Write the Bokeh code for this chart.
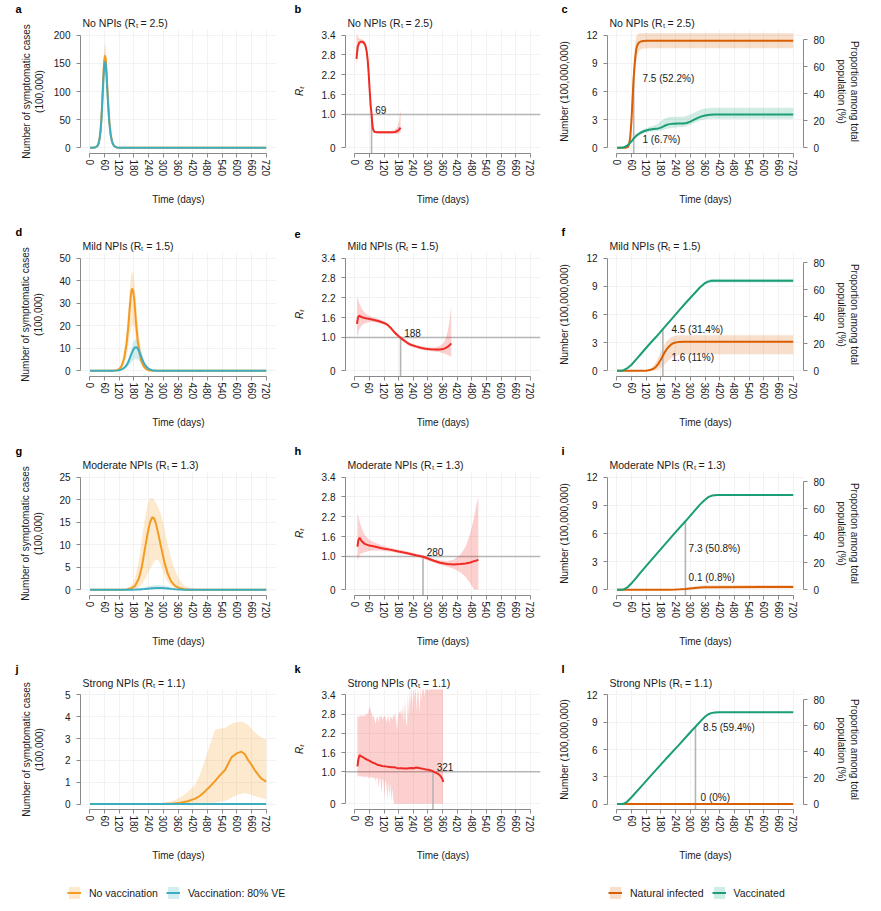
from bokeh.plotting import figure
from bokeh.models import FixedTicker, Range1d, LinearAxis, Span, Title, Legend, LegendItem
from bokeh.layouts import column, row
from bokeh.embed import file_html
from bokeh.resources import INLINE
from bokeh.core.properties import value

# ---------------------------------------------------------------- data
POP = 14.37  # total population (100,000,000)
X_TICKS = [0, 60, 120, 180, 240, 300, 360, 420, 480, 540, 600, 660, 720]
TITLES = ["No NPIs (R\u209c = 2.5)", "Mild NPIs (R\u209c = 1.5)",
          "Moderate NPIs (R\u209c = 1.3)", "Strong NPIs (R\u209c = 1.1)"]
LETTERS = [["a", "b", "c"], ["d", "e", "f"], ["g", "h", "i"], ["j", "k", "l"]]
CASE_YMAX = [200, 50, 25, 5]
CASE_YTICKS = [[0, 50, 100, 150, 200], [0, 10, 20, 30, 40, 50],
               [0, 5, 10, 15, 20, 25], [0, 1, 2, 3, 4, 5]]
RT_TICKS = [0, 1.0, 1.6, 2.2, 2.8, 3.4]
RT_TICK_LABELS = ["0", "1.0", "1.6", "2.2", "2.8", "3.4"]
NUM_TICKS = [0, 3, 6, 9, 12]
PCT_TICKS = [0, 20, 40, 60, 80]
CROSS_DAY = [69, 188, 280, 321]
CROSS_NUM = [7.5, 4.5, 7.3, 8.5]
NUM_LABEL_X = [[105, 105], [223, 223], [293, 293], [352, 342]]
NUM_LABEL_Y = [[7.4, 0.88], [4.4, 1.4], [4.45, 1.27], [8.42, 0.77]]
NUM_LABEL_TEXT = [["7.5 (52.2%)", "1 (6.7%)"], ["4.5 (31.4%)", "1.6 (11%)"],
                  ["7.3 (50.8%)", "0.1 (0.8%)"], ["8.5 (59.4%)", "0 (0%)"]]

# panel a
a_days = [1, 20, 30, 35, 40, 44, 48, 52, 56, 59, 62, 65, 68, 72, 76, 80, 85, 90, 95, 100, 110, 120, 140, 200, 720]
a_nv = [0, 0.5, 3, 7, 17, 32, 58, 95, 135, 156, 164, 158, 138, 104, 72, 46, 25, 13, 6.5, 3.2, 0.8, 0.2, 0.03, 0, 0]
a_nv_hi = [0, 0.6, 3.5, 8, 19.5, 36, 66, 108, 153, 177, 185, 179, 156, 118, 82, 52, 28, 15, 7.3, 3.6, 0.9, 0.25, 0.04, 0, 0]
a_nv_lo = [0, 0.4, 2.6, 6, 14.8, 28, 50, 83, 117, 136, 143, 137, 120, 90, 63, 40, 22, 11.3, 5.7, 2.8, 0.7, 0.17, 0.02, 0, 0]
a_v = [0, 0.5, 2.8, 6.5, 16, 30, 54, 89, 126, 146, 153, 148, 129, 97, 67, 43, 23, 12, 6, 3, 0.7, 0.2, 0.03, 0, 0]
a_v_hi = [0, 0.55, 3.1, 7.2, 17.6, 33, 59, 98, 139, 160, 168, 163, 142, 107, 74, 47, 25, 13.2, 6.6, 3.3, 0.8, 0.22, 0.03, 0, 0]
a_v_lo = [0, 0.45, 2.5, 5.8, 14.4, 27, 49, 80, 113, 132, 138, 133, 116, 87, 60, 39, 21, 10.8, 5.4, 2.7, 0.6, 0.18, 0.02, 0, 0]
# panel d
d_days = [1, 60, 90, 110, 120, 130, 140, 150, 157, 163, 168, 172, 177, 182, 188, 195, 202, 210, 220, 230, 240, 255, 270, 290, 320, 720]
d_nv = [0, 0, 0.05, 0.3, 0.8, 2.2, 5.5, 12, 19.5, 28, 34, 36.5, 35.5, 31, 22, 14, 8.5, 4.5, 2, 0.8, 0.3, 0.1, 0.03, 0, 0, 0]
d_nv_hi = [0, 0, 0.1, 0.5, 1.3, 3.5, 8.5, 18, 27, 36, 42, 44, 43.5, 40, 32, 23, 15, 9, 4.2, 1.8, 0.7, 0.25, 0.08, 0.01, 0, 0]
d_nv_lo = [0, 0, 0.02, 0.15, 0.4, 1.2, 3, 6.5, 11, 15.5, 19, 20.5, 20.5, 19, 14, 9, 5.2, 2.6, 1.0, 0.35, 0.12, 0.04, 0.01, 0, 0, 0]
d_v = [0, 0, 0.02, 0.12, 0.3, 0.65, 1.3, 2.5, 3.9, 5.5, 7, 8, 9.2, 10.1, 10.6, 10, 8.5, 6.2, 3.6, 1.9, 0.9, 0.3, 0.1, 0.03, 0, 0]
d_v_hi = [0, 0, 0.03, 0.17, 0.42, 0.9, 1.8, 3.4, 5.3, 7.5, 9.4, 10.8, 12.4, 13.6, 14.2, 13.5, 11.5, 8.4, 4.9, 2.6, 1.2, 0.4, 0.14, 0.04, 0, 0]
d_v_lo = [0, 0, 0.01, 0.06, 0.15, 0.33, 0.65, 1.25, 1.95, 2.75, 3.5, 4, 4.6, 5.05, 5.3, 5, 4.25, 3.1, 1.8, 0.95, 0.45, 0.15, 0.05, 0.015, 0, 0]
# panel g
g_days = [1, 120, 150, 170, 185, 200, 212, 224, 236, 246, 255, 262, 270, 280, 292, 305, 318, 332, 348, 365, 385, 410, 450, 720]
g_nv = [0, 0.02, 0.1, 0.35, 0.9, 2.5, 5, 8.8, 12.6, 15, 16.1, 15.9, 14.7, 12.3, 9.2, 6, 3.6, 1.9, 0.9, 0.4, 0.15, 0.05, 0.01, 0]
g_nv_hi = [0, 0.05, 0.3, 1, 2.6, 6.5, 11, 15.5, 19, 20.3, 20.4, 20, 19.3, 18.2, 16.5, 13.5, 10, 7, 4.3, 2.3, 1, 0.4, 0.1, 0]
g_nv_lo = [0, 0, 0.02, 0.08, 0.2, 0.6, 1.2, 2.2, 3.5, 4.6, 5.5, 6.2, 6.7, 6.5, 5.2, 3.3, 1.8, 0.9, 0.4, 0.15, 0.05, 0.01, 0, 0]
g_v = [0, 0, 0.01, 0.03, 0.06, 0.1, 0.15, 0.2, 0.27, 0.32, 0.36, 0.38, 0.4, 0.41, 0.4, 0.36, 0.3, 0.22, 0.14, 0.08, 0.04, 0.02, 0, 0]
g_v_hi = [0, 0, 0.03, 0.08, 0.16, 0.27, 0.4, 0.55, 0.72, 0.85, 0.95, 1.0, 1.05, 1.07, 1.04, 0.94, 0.78, 0.57, 0.36, 0.2, 0.1, 0.05, 0.01, 0]
g_v_lo = [0, 0, 0, 0.01, 0.02, 0.03, 0.05, 0.06, 0.08, 0.1, 0.11, 0.12, 0.12, 0.12, 0.12, 0.11, 0.09, 0.07, 0.04, 0.02, 0.01, 0, 0, 0]
# panel j
j_days = [1, 250, 300, 340, 370, 400, 430, 450, 470, 490, 511, 530, 552, 565, 579, 599, 619, 633, 646, 660, 673, 687, 700, 720]
j_nv = [0, 0, 0.01, 0.03, 0.06, 0.13, 0.25, 0.38, 0.58, 0.8, 1.05, 1.3, 1.56, 1.85, 2.15, 2.32, 2.4, 2.28, 2.02, 1.8, 1.56, 1.35, 1.17, 1.03]
j_nv_hi = [0, 0.01, 0.05, 0.15, 0.3, 0.55, 0.9, 1.35, 2.0, 2.7, 3.4, 3.45, 3.5, 3.6, 3.68, 3.75, 3.78, 3.7, 3.62, 3.45, 3.3, 3.15, 3.05, 2.95]
j_nv_lo = [0, 0, 0, 0, 0, 0, 0, 0.01, 0.02, 0.04, 0.06, 0.1, 0.15, 0.2, 0.3, 0.4, 0.47, 0.5, 0.47, 0.42, 0.37, 0.32, 0.28, 0.22]
j_v_days = [1, 720]
j_v = [0, 0]
j_v_hi = [0.02, 0.02]
j_v_lo = [0, 0]

# panel b
b_days = [7, 12, 18, 24, 30, 36, 41, 45, 49, 53, 57, 61, 65, 69, 72, 75, 79, 84, 95, 120, 150, 165, 175, 182, 188]
b_rt = [2.68, 3.05, 3.17, 3.2, 3.2, 3.18, 3.13, 3.05, 2.9, 2.65, 2.25, 1.75, 1.3, 1.0, 0.72, 0.56, 0.49, 0.47, 0.46, 0.46, 0.46, 0.47, 0.5, 0.54, 0.6]
b_hi = [3.45, 3.38, 3.3, 3.28, 3.27, 3.25, 3.2, 3.12, 2.98, 2.74, 2.35, 1.86, 1.4, 1.1, 0.8, 0.62, 0.54, 0.51, 0.5, 0.5, 0.5, 0.53, 0.62, 0.8, 1.15]
b_lo = [2.45, 2.8, 3.05, 3.13, 3.14, 3.11, 3.06, 2.98, 2.82, 2.56, 2.15, 1.65, 1.2, 0.9, 0.65, 0.5, 0.44, 0.43, 0.42, 0.42, 0.42, 0.42, 0.41, 0.42, 0.45]
# panel e
e_days = [9, 13, 18, 30, 45, 61, 80, 100, 120, 135, 150, 165, 178, 188, 200, 215, 230, 250, 270, 290, 310, 330, 350, 362, 372, 382, 390, 396]
e_rt = [1.41, 1.6, 1.66, 1.61, 1.58, 1.56, 1.53, 1.49, 1.44, 1.38, 1.27, 1.14, 1.05, 0.99, 0.92, 0.84, 0.78, 0.73, 0.69, 0.66, 0.645, 0.635, 0.64, 0.65, 0.68, 0.72, 0.77, 0.82]
e_hi = [2.25, 2.15, 2.05, 1.85, 1.72, 1.65, 1.6, 1.55, 1.49, 1.43, 1.32, 1.19, 1.1, 1.04, 0.97, 0.89, 0.83, 0.78, 0.74, 0.71, 0.7, 0.7, 0.74, 0.82, 0.95, 1.2, 1.55, 1.97]
e_lo = [1.0, 1.1, 1.25, 1.38, 1.44, 1.47, 1.46, 1.43, 1.39, 1.33, 1.22, 1.09, 1.0, 0.94, 0.87, 0.79, 0.73, 0.68, 0.64, 0.61, 0.59, 0.57, 0.55, 0.52, 0.5, 0.47, 0.44, 0.42]
# panel h
h_days = [11, 15, 20, 28, 41, 60, 81, 110, 149, 180, 216, 250, 281, 300, 325, 350, 379, 405, 433, 455, 474, 490, 500, 507]
h_rt = [1.3, 1.5, 1.57, 1.47, 1.38, 1.33, 1.3, 1.25, 1.2, 1.15, 1.1, 1.04, 0.99, 0.94, 0.87, 0.81, 0.77, 0.76, 0.77, 0.79, 0.82, 0.86, 0.88, 0.9]
h_hi = [2.3, 2.2, 2.05, 1.85, 1.65, 1.5, 1.42, 1.33, 1.26, 1.2, 1.15, 1.09, 1.03, 0.98, 0.92, 0.88, 0.86, 0.9, 1.05, 1.3, 1.7, 2.2, 2.6, 2.8]
h_lo = [0.85, 0.95, 1.05, 1.1, 1.13, 1.17, 1.18, 1.17, 1.14, 1.1, 1.05, 0.99, 0.93, 0.88, 0.81, 0.75, 0.69, 0.63, 0.52, 0.38, 0.18, 0.0, 0.0, 0.0]
# panel k
k_days = [11, 15, 20, 26, 33, 40, 48, 55, 63, 72, 82, 92, 102, 112, 122, 132, 142, 152, 162, 172, 182,
          192, 202, 212, 222, 232, 242, 252, 262, 272, 282, 292, 302, 312, 320, 328, 336, 344, 350, 356, 360, 363]
k_rt = [1.17, 1.4, 1.52, 1.48, 1.46, 1.42, 1.39, 1.36, 1.33, 1.29, 1.26, 1.22, 1.2, 1.18, 1.17, 1.16, 1.15, 1.14, 1.14, 1.12, 1.11,
        1.11, 1.1, 1.1, 1.11, 1.12, 1.11, 1.13, 1.12, 1.1, 1.09, 1.07, 1.06, 1.04, 1.02, 0.98, 0.96, 0.92, 0.88, 0.82, 0.76, 0.68]
k_band_days = [11, 14, 18, 22, 26, 30, 34, 38, 42, 46, 50, 54, 58, 62, 66, 70, 74, 78, 82, 86, 90,
               94, 98, 102, 106, 110, 114, 118, 122, 126, 130, 134, 138, 142, 146, 150, 154, 158, 162, 166, 170,
               174, 178, 182, 186, 190, 194, 198, 202, 206, 210, 214, 218, 222, 226, 230, 234, 238, 242, 246, 250,
               254, 258, 262, 266, 270, 274, 278, 282, 286, 290, 294, 298, 302, 306, 310, 314, 318, 322, 326, 330,
               334, 338, 342, 346, 350, 354, 358, 362]
k_hi = [2.75, 2.72, 2.75, 2.7, 2.78, 2.74, 2.76, 2.72, 2.8, 2.75, 2.85, 2.78, 2.95, 3.05, 2.9, 2.8, 2.7, 2.75, 2.6, 2.5, 2.72,
        2.7, 2.55, 2.75, 2.7, 2.78, 2.6, 2.72, 2.75, 2.7, 2.55, 2.68, 2.75, 2.5, 2.7, 2.72, 2.6, 2.8, 2.7, 2.85, 2.55,
        2.3, 2.75, 2.9, 2.8, 2.95, 2.7, 3.1, 2.5, 3.3, 2.6, 2.4, 3.4, 2.7, 3.6, 3.1, 3.7, 2.9, 3.7, 3.3, 3.7,
        2.85, 3.7, 3.4, 2.8, 3.7, 3.2, 3.7, 3.7, 3.3, 3.7, 3.7, 3.7, 3.5, 3.7, 3.7, 3.7, 3.7, 3.7, 3.7, 3.7,
        3.7, 3.7, 3.7, 3.7, 3.7, 3.7, 3.7, 3.7]
k_lo = [0.8, 0.88, 0.85, 0.87, 0.84, 0.86, 0.85, 0.83, 0.86, 0.82, 0.85, 0.84, 0.8, 0.83, 0.81, 0.84, 0.78, 0.82, 0.8, 0.7, 0.82,
        0.78, 0.5, 0.8, 0.75, 0.3, 0.78, 0.72, 0.15, 0.75, 0.6, 0.1, 0.7, 0.2, 0.65, 0.05, 0.5, 0.1, 0, 0, 0,
        0, 0, 0, 0, 0, 0, 0, 0, 0, 0, 0, 0, 0, 0, 0, 0, 0, 0, 0, 0,
        0, 0, 0, 0, 0, 0, 0, 0, 0, 0, 0, 0, 0, 0, 0, 0, 0, 0, 0, 0,
        0, 0, 0, 0, 0, 0, 0, 0]

# panel c
c_nat_days = [1, 20, 35, 45, 50, 55, 60, 64, 67, 69, 72, 76, 80, 85, 90, 100, 120, 720]
c_nat = [0, 0, 0.02, 0.1, 0.35, 1.2, 3.0, 5.0, 6.6, 7.5, 8.6, 9.8, 10.6, 11.0, 11.2, 11.35, 11.4, 11.4]
c_nat_hi = [0, 0, 0.05, 0.2, 0.6, 1.8, 4.2, 6.5, 8.2, 9.2, 10.3, 11.3, 11.9, 12.1, 12.2, 12.2, 12.2, 12.2]
c_nat_lo = [0, 0, 0.01, 0.05, 0.2, 0.7, 2.0, 3.6, 5.0, 5.9, 7.0, 8.3, 9.3, 9.9, 10.3, 10.55, 10.6, 10.6]
c_vac_days = [1, 20, 30, 40, 50, 60, 69, 80, 95, 110, 130, 150, 170, 180, 195, 210, 230, 250, 270, 285, 300, 320, 340, 360, 380, 400, 720]
c_vac = [0, 0.02, 0.08, 0.2, 0.42, 0.7, 1.0, 1.3, 1.58, 1.77, 1.93, 2.0, 2.07, 2.15, 2.35, 2.5, 2.58, 2.6, 2.6, 2.65, 2.8, 3.05, 3.3, 3.45, 3.52, 3.55, 3.55]
c_vac_hi = [0, 0.03, 0.1, 0.25, 0.5, 0.82, 1.15, 1.5, 1.8, 2.0, 2.2, 2.35, 2.6, 2.85, 3.1, 3.25, 3.3, 3.32, 3.32, 3.4, 3.55, 3.8, 4.05, 4.2, 4.25, 4.27, 4.27]
c_vac_lo = [0, 0.01, 0.06, 0.15, 0.35, 0.6, 0.85, 1.1, 1.38, 1.55, 1.7, 1.78, 1.82, 1.85, 1.95, 2.05, 2.15, 2.2, 2.22, 2.3, 2.45, 2.7, 2.9, 3.05, 3.1, 3.1, 3.1]
# panel f
f_nat_days = [1, 100, 120, 135, 150, 160, 170, 180, 188, 196, 205, 215, 225, 235, 250, 270, 300, 720]
f_nat = [0, 0, 0.02, 0.08, 0.22, 0.45, 0.78, 1.2, 1.6, 2.0, 2.35, 2.65, 2.87, 2.99, 3.06, 3.1, 3.1, 3.1]
f_nat_hi = [0, 0, 0.06, 0.22, 0.55, 0.95, 1.45, 2.0, 2.45, 2.85, 3.2, 3.45, 3.62, 3.72, 3.78, 3.8, 3.8, 3.8]
f_nat_lo = [0, 0, 0, 0.01, 0.04, 0.09, 0.18, 0.32, 0.48, 0.7, 0.95, 1.2, 1.4, 1.55, 1.68, 1.74, 1.76, 1.76]
f_vac_days = [1, 20, 30, 45, 60, 80, 100, 130, 160, 188, 220, 250, 280, 310, 340, 360, 372, 385, 400, 720]
f_vac = [0, 0.02, 0.1, 0.32, 0.65, 1.25, 1.85, 2.75, 3.6, 4.45, 5.4, 6.3, 7.2, 8.05, 8.9, 9.35, 9.5, 9.58, 9.6, 9.6]
f_vac_hi = [0, 0.03, 0.12, 0.36, 0.7, 1.3, 1.92, 2.83, 3.68, 4.54, 5.5, 6.4, 7.3, 8.16, 9.02, 9.5, 9.7, 9.78, 9.8, 9.8]
f_vac_lo = [0, 0.01, 0.08, 0.28, 0.6, 1.2, 1.78, 2.67, 3.52, 4.36, 5.3, 6.2, 7.1, 7.94, 8.78, 9.2, 9.3, 9.38, 9.4, 9.4]
# panel i
i_nat_days = [1, 180, 210, 240, 260, 280, 300, 320, 340, 360, 390, 720]
i_nat = [0, 0, 0.01, 0.03, 0.06, 0.1, 0.15, 0.2, 0.24, 0.27, 0.29, 0.3]
i_nat_hi = [0, 0, 0.03, 0.08, 0.15, 0.22, 0.3, 0.38, 0.44, 0.48, 0.5, 0.52]
i_nat_lo = [0, 0, 0, 0.01, 0.02, 0.04, 0.06, 0.09, 0.11, 0.13, 0.14, 0.15]
i_vac_days = [1, 20, 30, 45, 60, 80, 100, 130, 160, 200, 240, 280, 310, 340, 360, 375, 390, 410, 720]
i_vac = [0, 0.02, 0.08, 0.3, 0.7, 1.3, 1.95, 2.85, 3.75, 4.95, 6.15, 7.3, 8.2, 9.1, 9.6, 9.9, 10.05, 10.1, 10.1]
i_vac_hi = [0, 0.03, 0.1, 0.34, 0.76, 1.37, 2.03, 2.93, 3.83, 5.03, 6.23, 7.38, 8.28, 9.18, 9.68, 9.98, 10.13, 10.18, 10.18]
i_vac_lo = [0, 0.01, 0.06, 0.26, 0.64, 1.23, 1.87, 2.77, 3.67, 4.87, 6.07, 7.22, 8.12, 9.02, 9.52, 9.82, 9.97, 10.02, 10.02]
# panel l
l_nat_days = [1, 720]
l_nat = [0, 0]
l_nat_hi = [0.02, 0.02]
l_nat_lo = [0, 0]
l_vac_days = [1, 20, 30, 40, 60, 100, 150, 200, 250, 300, 321, 345, 360, 372, 385, 400, 420, 720]
l_vac = [0, 0.01, 0.06, 0.2, 0.75, 1.95, 3.45, 4.95, 6.4, 7.9, 8.5, 9.2, 9.6, 9.85, 10.0, 10.08, 10.1, 10.1]
l_vac_hi = [0, 0.02, 0.08, 0.23, 0.8, 2.02, 3.52, 5.02, 6.47, 7.97, 8.57, 9.27, 9.67, 9.92, 10.07, 10.15, 10.17, 10.17]
l_vac_lo = [0, 0, 0.04, 0.17, 0.7, 1.88, 3.38, 4.88, 6.33, 7.83, 8.43, 9.13, 9.53, 9.78, 9.93, 10.01, 10.03, 10.03]

CASES = [
    (a_days, a_nv, a_nv_lo, a_nv_hi, a_days, a_v, a_v_lo, a_v_hi),
    (d_days, d_nv, d_nv_lo, d_nv_hi, d_days, d_v, d_v_lo, d_v_hi),
    (g_days, g_nv, g_nv_lo, g_nv_hi, g_days, g_v, g_v_lo, g_v_hi),
    (j_days, j_nv, j_nv_lo, j_nv_hi, j_v_days, j_v, j_v_lo, j_v_hi),
]
RTS = [
    (b_days, b_rt, b_days, b_lo, b_hi),
    (e_days, e_rt, e_days, e_lo, e_hi),
    (h_days, h_rt, h_days, h_lo, h_hi),
    (k_days, k_rt, k_band_days, k_lo, k_hi),
]
NUMS = [
    (c_nat_days, c_nat, c_nat_lo, c_nat_hi, c_vac_days, c_vac, c_vac_lo, c_vac_hi),
    (f_nat_days, f_nat, f_nat_lo, f_nat_hi, f_vac_days, f_vac, f_vac_lo, f_vac_hi),
    (i_nat_days, i_nat, i_nat_lo, i_nat_hi, i_vac_days, i_vac, i_vac_lo, i_vac_hi),
    (l_nat_days, l_nat, l_nat_lo, l_nat_hi, l_vac_days, l_vac, l_vac_lo, l_vac_hi),
]

# ---------------------------------------------------------------- style
FONT = "Liberation Sans"
ORANGE = "#F39A21"
TEAL = "#3DADC0"
NAT = "#D95F02"
VAC = "#1B9E77"
RED = "#EE2B24"
GREY_LINE = "#b5b5b5"
AXIS_C = "#8a8a8a"
TXT = "#1a1a1a"
GRID_C = "#f2f2f2"
NAN = float("nan")

COL_W = [290, 265, 318]
BORDER_L = [80, 54, 52]
BORDER_R = [14, 15, 70]
ROW_H = [223, 219, 218, 204]
BORDER_T = 28
FRAME_H = 125
X_RANGE = (-38, 762)
CASE_LABEL_STANDOFF = [6, 12, 12, 17]
LETTER_OFFSET = [-65, -51, -46]


def new_fig(r, c, y_range):
    p = figure(width=COL_W[c], height=ROW_H[r], x_range=Range1d(*X_RANGE), y_range=y_range,
               output_backend="svg", toolbar_location=None, tools="",
               min_border_left=BORDER_L[c], min_border_right=BORDER_R[c],
               min_border_top=BORDER_T, min_border_bottom=ROW_H[r] - BORDER_T - FRAME_H)
    p.outline_line_color = None
    # outer title line: panel letter
    p.title.text = LETTERS[r][c]
    p.title.align = "left"
    p.title.offset = LETTER_OFFSET[c]
    p.title.standoff = 0
    p.title.text_font = FONT
    p.title.text_font_size = "11px"
    p.title.text_font_style = "bold"
    p.title.text_color = "black"
    # inner title line: scenario
    p.add_layout(Title(text=TITLES[r], align="left", offset=2, standoff=1,
                       text_font=FONT, text_font_size="10.5px", text_font_style="normal",
                       text_color=TXT), "above")
    xa = p.xaxis[0]
    xa.ticker = FixedTicker(ticks=X_TICKS)
    xa.bounds = (0, 720)
    xa.major_label_orientation = "vertical"
    xa.axis_label = "Time (days)"
    xa.major_label_standoff = 2
    xa.axis_label_standoff = 15
    p.xgrid.ticker = FixedTicker(ticks=X_TICKS)
    p.grid.grid_line_color = GRID_C
    return p


def style_axes(p):
    for ax in p.axis:
        ax.axis_line_color = AXIS_C
        ax.axis_line_width = 1
        ax.major_tick_line_color = AXIS_C
        ax.minor_tick_line_color = None
        ax.major_tick_in = 0
        ax.major_tick_out = 4
        ax.major_label_text_font = FONT
        ax.major_label_text_font_size = "10px"
        ax.major_label_text_color = TXT
        ax.axis_label_text_font = FONT
        ax.axis_label_text_font_size = "10px"
        ax.axis_label_text_font_style = "normal"
        ax.axis_label_text_color = TXT
    for ax in p.yaxis:
        ax.major_label_standoff = 6


def case_fig(r):
    ymax = CASE_YMAX[r]
    p = new_fig(r, 0, Range1d(-0.05 * ymax, 1.05 * ymax))
    nd, nv, nlo, nhi, vd, v, vlo, vhi = CASES[r]
    p.varea(x=nd, y1=nlo, y2=nhi, fill_color=ORANGE, fill_alpha=0.22)
    p.varea(x=vd, y1=vlo, y2=vhi, fill_color=TEAL, fill_alpha=0.22)
    p.line(nd, nv, line_color=ORANGE, line_width=2)
    p.line(vd, v, line_color=TEAL, line_width=2)
    ya = p.yaxis[0]
    ya.ticker = FixedTicker(ticks=CASE_YTICKS[r])
    ya.bounds = (0, ymax)
    ya.axis_label = "Number of symptomatic cases\n(100,000)"
    ya.axis_label_standoff = CASE_LABEL_STANDOFF[r]
    p.ygrid.ticker = FixedTicker(ticks=CASE_YTICKS[r])
    style_axes(p)
    return p


def rt_fig(r):
    yr = Range1d(-0.18, 3.57)
    p = new_fig(r, 1, yr)
    d, rt, bd, lo, hi = RTS[r]
    p.varea(x=bd, y1=lo, y2=hi, fill_color=RED, fill_alpha=0.22)
    p.add_layout(Span(location=1.0, dimension="width", line_color=GREY_LINE, line_width=1.6,
                      level="underlay"))
    p.segment(x0=[CROSS_DAY[r]], y0=[yr.start], x1=[CROSS_DAY[r]], y1=[1.0],
              line_color=GREY_LINE, line_width=1.6)
    p.line(d, rt, line_color=RED, line_width=2)
    p.text(x=[CROSS_DAY[r] + 15], y=[1.15], text=[str(CROSS_DAY[r])],
           text_font=value(FONT), text_font_size="10px", text_color=TXT,
           text_align="left", text_baseline="middle")
    ya = p.yaxis[0]
    ya.ticker = FixedTicker(ticks=RT_TICKS)
    ya.major_label_overrides = dict(zip(RT_TICKS, RT_TICK_LABELS))
    ya.bounds = (0, 3.4)
    ya.axis_label = "R\u209c"
    ya.axis_label_standoff = 14
    p.ygrid.ticker = FixedTicker(ticks=RT_TICKS)
    style_axes(p)
    p.yaxis[0].axis_label_text_font_style = "italic"
    return p


def num_fig(r):
    lo_n, hi_n = -0.6, 12.6
    p = new_fig(r, 2, Range1d(lo_n, hi_n))
    p.extra_y_ranges = {"pct": Range1d(lo_n / POP * 100, hi_n / POP * 100)}
    nd, nv, nlo, nhi, vd, v, vlo, vhi = NUMS[r]
    p.varea(x=nd, y1=nlo, y2=nhi, fill_color=NAT, fill_alpha=0.2)
    p.varea(x=vd, y1=vlo, y2=vhi, fill_color=VAC, fill_alpha=0.2)
    p.segment(x0=[CROSS_DAY[r]], y0=[lo_n], x1=[CROSS_DAY[r]], y1=[CROSS_NUM[r]],
              line_color=GREY_LINE, line_width=1.6)
    p.line(nd, nv, line_color=NAT, line_width=2)
    p.line(vd, v, line_color=VAC, line_width=2)
    p.text(x=NUM_LABEL_X[r], y=NUM_LABEL_Y[r], text=NUM_LABEL_TEXT[r],
           text_font=value(FONT), text_font_size="10px", text_color=TXT,
           text_align="left", text_baseline="middle")
    ya = p.yaxis[0]
    ya.ticker = FixedTicker(ticks=NUM_TICKS)
    ya.bounds = (0, 12)
    ya.axis_label = "Number (100,000,000)"
    ya.axis_label_standoff = 13
    p.ygrid.ticker = FixedTicker(ticks=NUM_TICKS)
    ra = LinearAxis(y_range_name="pct", ticker=FixedTicker(ticks=PCT_TICKS), bounds=(0, 80),
                    axis_label="Proportion among total\npopulation (%)", axis_label_standoff=8)
    p.add_layout(ra, "right")
    style_axes(p)
    return p


rows = []
for r in range(4):
    rows.append(row(case_fig(r), rt_fig(r), num_fig(r)))

# ---------------------------------------------------------------- legend strip
lf = figure(width=873, height=44, x_range=Range1d(0, 1), y_range=Range1d(0, 1),
            output_backend="svg", toolbar_location=None, tools="",
            x_axis_location=None, y_axis_location=None, min_border=0)
lf.outline_line_color = None
lf.grid.visible = False


def legend_pair(color, alpha):
    a = lf.varea(x=[NAN], y1=[NAN], y2=[NAN], fill_color=color, fill_alpha=alpha)
    l = lf.line(x=[NAN], y=[NAN], line_color=color, line_width=2)
    return [a, l]


def make_legend(items, loc):
    return Legend(items=items, location=loc, orientation="horizontal", glyph_width=14,
                  glyph_height=15, label_height=15, label_standoff=8, spacing=8, padding=0,
                  margin=0, border_line_color=None, background_fill_alpha=0,
                  label_text_font=FONT, label_text_font_size="10.5px", label_text_color=TXT)


lf.add_layout(make_legend([LegendItem(label="No vaccination", renderers=legend_pair(ORANGE, 0.22)),
                           LegendItem(label="Vaccination: 80% VE", renderers=legend_pair(TEAL, 0.22))],
                          (67, 8)))
lf.add_layout(make_legend([LegendItem(label="Natural infected", renderers=legend_pair(NAT, 0.2)),
                           LegendItem(label="Vaccinated", renderers=legend_pair(VAC, 0.2))],
                          (608, 8)))

layout = column(*rows, lf)
open("out.html", "w").write(file_html(layout, INLINE))
